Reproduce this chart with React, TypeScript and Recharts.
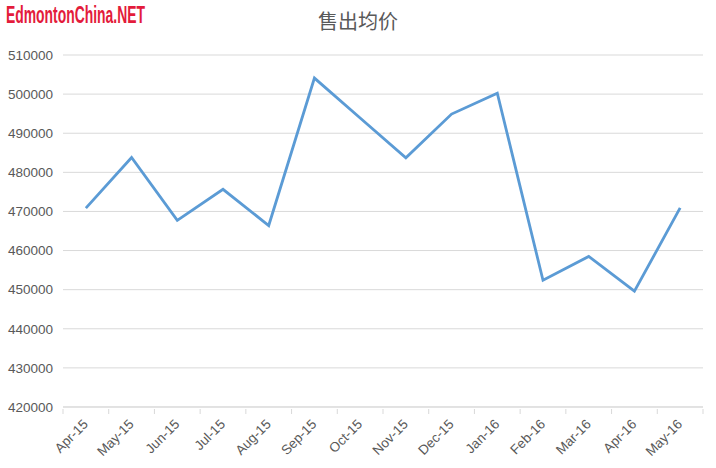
import { CartesianGrid, Line, LineChart, XAxis, YAxis } from 'recharts'

const months = ['Apr-15', 'May-15', 'Jun-15', 'Jul-15', 'Aug-15', 'Sep-15', 'Oct-15', 'Nov-15', 'Dec-15', 'Jan-16', 'Feb-16', 'Mar-16', 'Apr-16', 'May-16']
const avgPrice = [470850, 483800, 467700, 475650, 466400, 504100, 493900, 483700, 494900, 500250, 452400, 458500, 449600, 470900]
const yTicks = [420000, 430000, 440000, 450000, 460000, 470000, 480000, 490000, 500000, 510000]

const W = 716
const H = 468
const LINE = '#5b9bd5'
const GRID = '#d9d9d9'
const TEXT = '#595959'
const FONT = '"Liberation Sans", Arial, sans-serif'
const HALF_STEP = 640 / months.length / 2

const data = months.map((m, i) => ({ month: m, price: avgPrice[i] }))

function MonthTick(props: any) {
  const { x, y, payload, index } = props
  const last = index === months.length - 1
  return (
    <g>
      <line x1={x - HALF_STEP} x2={x - HALF_STEP} y1={y} y2={y + 5} stroke={GRID} />
      {last && <line x1={x + HALF_STEP} x2={x + HALF_STEP} y1={y} y2={y + 5} stroke={GRID} />}
      <text
        x={x + 3}
        y={y + 16}
        textAnchor="end"
        fill={TEXT}
        fontSize={13.5}
        fontFamily={FONT}
        transform={`rotate(-45, ${x + 3}, ${y + 16})`}
      >
        {payload.value}
      </text>
    </g>
  )
}

export default function App() {
  return (
    <div style={{ position: 'absolute', left: 0, top: 0, width: W, height: H, background: '#fff' }}>
      <svg width={260} height={34} style={{ position: 'absolute', left: 0, top: 0, overflow: 'visible' }}>
        <text
          x={6}
          y={23}
          fill="#e31b3b"
          fontSize={23}
          fontWeight="bold"
          fontFamily={FONT}
          textLength={139}
          lengthAdjust="spacingAndGlyphs"
        >
          EdmontonChina.NET
        </text>
      </svg>
      <div
        style={{
          position: 'absolute',
          left: 0,
          top: 7,
          width: W,
          textAlign: 'center',
          fontFamily: '"Noto Sans CJK SC", sans-serif',
          fontSize: 20,
          color: TEXT,
          lineHeight: '28px',
        }}
      >
        售出均价
      </div>
      <LineChart width={W} height={H} data={data} margin={{ top: 55, right: 13, bottom: 0, left: 0 }}>
        <CartesianGrid vertical={false} stroke={GRID} />
        <XAxis
          dataKey="month"
          height={61}
          interval={0}
          padding={{ left: HALF_STEP, right: HALF_STEP }}
          axisLine={{ stroke: GRID }}
          tickLine={false}
          tickSize={0}
          tick={<MonthTick />}
        />
        <YAxis
          domain={[420000, 510000]}
          ticks={yTicks}
          width={63}
          axisLine={false}
          tickLine={false}
          tickSize={0}
          tickMargin={10}
          tick={{ fill: TEXT, fontSize: 13.5, fontFamily: FONT }}
        />
        <Line type="linear" dataKey="price" stroke={LINE} strokeWidth={2.8} dot={false} isAnimationActive={false} />
      </LineChart>
    </div>
  )
}
